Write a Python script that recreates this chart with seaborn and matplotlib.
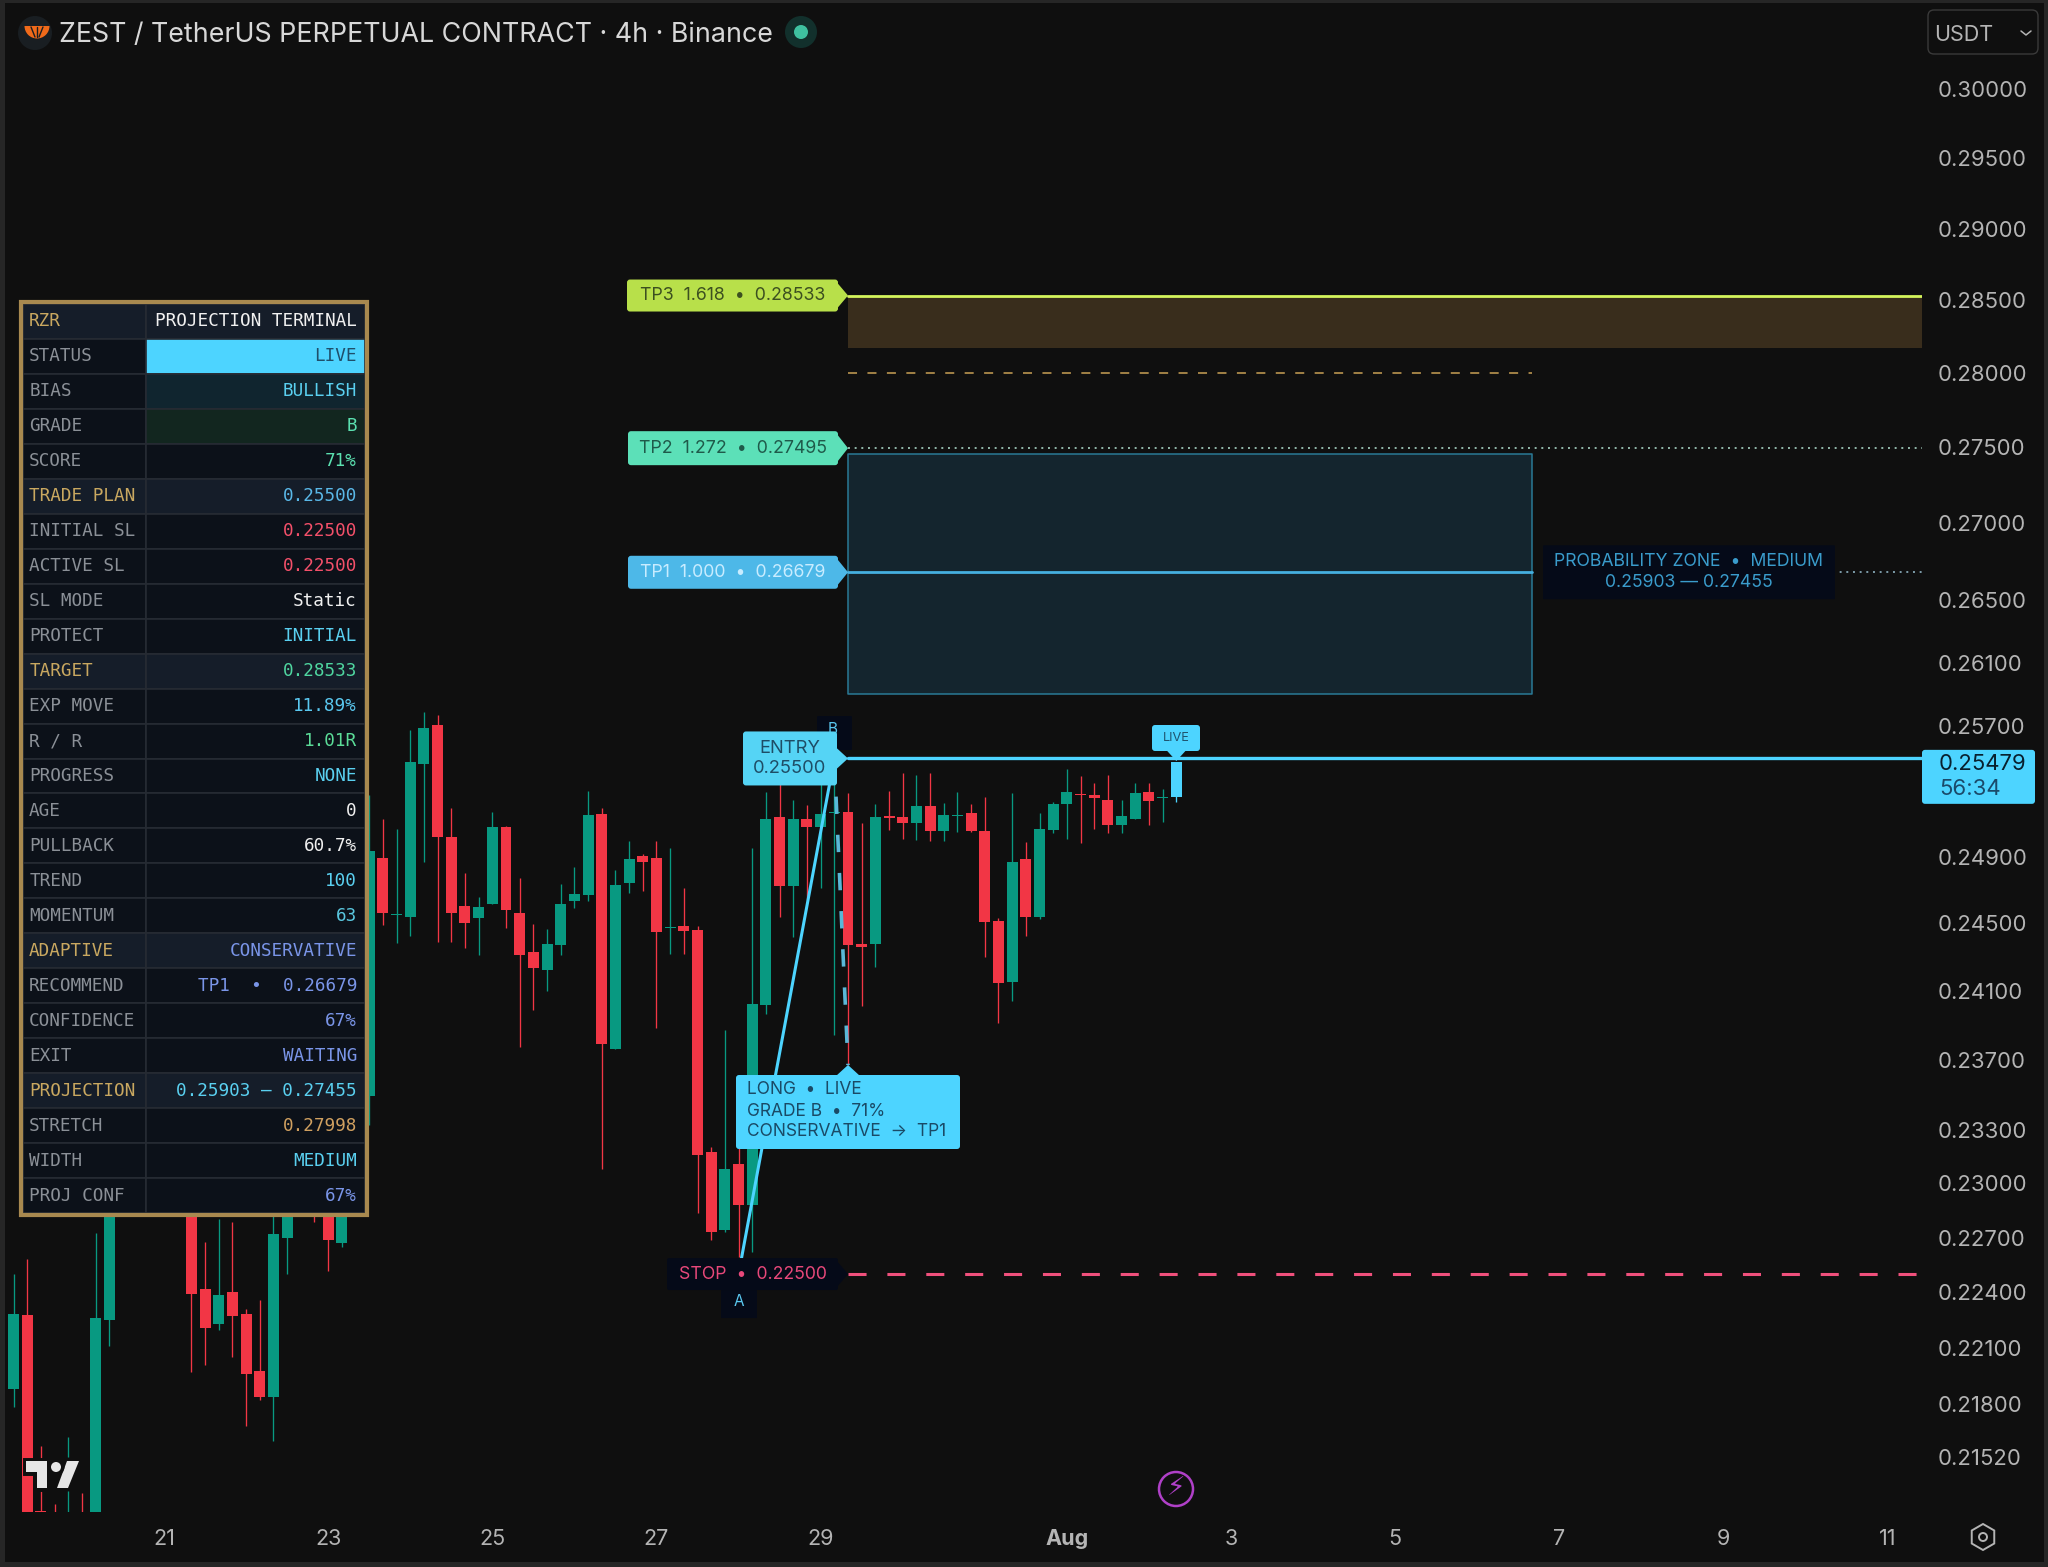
import matplotlib
matplotlib.use('Agg')
import matplotlib.pyplot as plt
import matplotlib.patheffects as pe
from matplotlib.patches import Rectangle, FancyBboxPatch, Polygon, Circle, Wedge, RegularPolygon, Ellipse
from matplotlib.ticker import NullLocator
import seaborn as sns

# Candles: 4h bars, index 0 = 21 Jul 00:00 (bars hidden behind the panel are left out)
bar_index = [-11, -10, -9, -8, -7, -6, -5, -4, 2, 3, 4, 5, 6, 7, 8, 9, 11, 12, 13, 15,
             16, 17, 18, 19, 20, 21, 22, 23, 24, 25, 26, 27, 28, 29, 30, 31, 32, 33, 34, 35,
             36, 37, 38, 39, 40, 41, 42, 43, 44, 45, 46, 47, 48, 49, 50, 51, 52, 53, 54, 55,
             56, 57, 58, 59, 60, 61, 62, 63, 64, 65, 66, 67, 68, 69, 70, 71, 72, 73, 74]
opens = [.21881, .22278, .21243, .21200, .21100, .21200, .21150, .22250, .23188, .22418,
         .22229, .22402, .22283, .21977, .21839, .22698, .23500, .23400, .22671, .23494,
         .24891, .24552, .24537, .25466, .25707, .25018, .24602, .24531, .24614, .25079,
         .24561, .24329, .24224, .24370, .24632, .24668, .25159, .23763, .24740, .24903,
         .24891, .24474, .24483, .24459, .23177, .22742, .23109, .22880, .24018, .25140,
         .24722, .25128, .25079, .25162, .25171, .24376, .24376, .25146, .25140, .25104,
         .25207, .25055, .25149, .25165, .25055, .24513, .24153, .24885, .24537, .25061,
         .25219, .25278, .25275, .25244, .25092, .25128, .25293, .25259, .25262]
highs = [.22500, .22582, .21581, .21279, .21628, .21336, .22726, .23100, .23300, .22676,
         .22800, .22786, .22310, .22359, .23000, .23400, .23700, .23600, .23500, .25275,
         .25128, .25067, .25676, .25789, .25770, .25195, .24800, .24656, .25171, .25085,
         .24770, .24495, .24465, .24734, .24837, .25299, .25195, .24819, .24994, .24915,
         .24994, .24952, .24710, .24483, .23205, .23873, .23357, .24952, .25293, .25428,
         .25244, .25213, .25397, .25366, .25287, .25104, .25219, .25299, .25409, .25397,
         .25409, .25225, .25293, .25219, .25262, .24531, .25287, .24988, .25165, .25232,
         .25434, .25391, .25348, .25397, .25244, .25348, .25348, .25311, .25479]
lows = [.21786, .21100, .21230, .21000, .21000, .21000, .21100, .22111, .21972, .22009,
        .22197, .22052, .21685, .21823, .21607, .22500, .22786, .22516, .22649, .23329,
        .24490, .24382, .24424, .24867, .24388, .24388, .24353, .24312, .24614, .24471,
        .23775, .23990, .24100, .24312, .24590, .24632, .23082, .23763, .24680, .24692,
        .23884, .24318, .24318, .22838, .22687, .22731, .22593, .22621, .23965, .24537,
        .24418, .24638, .24710, .23844, .23671, .24012, .24241, .25061, .25006, .25000,
        .24994, .24994, .25049, .25049, .24300, .23913, .24042, .24424, .24525, .25043,
        .25006, .24982, .25067, .25043, .25043, .25128, .25092, .25110, .25232]
closes = [.22283, .21145, .21237, .21100, .21200, .21100, .22261, .22964, .22391, .22207,
          .22386, .22272, .21961, .21839, .22720, .23200, .23000, .22687, .23300, .24933,
          .24561, .24558, .25478, .25689, .25018, .24561, .24501, .24596, .25079, .24579,
          .24312, .24236, .24376, .24614, .24674, .25152, .23792, .24728, .24885, .24867,
          .24447, .24480, .24453, .23160, .22731, .23082, .22880, .24024, .25128, .24722,
          .25128, .25079, .25159, .25168, .24370, .24359, .25140, .25134, .25104, .25207,
          .25055, .25152, .25155, .25055, .24507, .24147, .24867, .24537, .25067, .25219,
          .25293, .25272, .25256, .25092, .25146, .25287, .25238, .25265, .25479]

# Axis ticks
price_ticks = [.30, .295, .29, .285, .28, .275, .27, .265, .261, .257, .249, .245,
               .241, .237, .233, .23, .227, .224, .221, .218, .2152]
date_ticks = [0, 12, 24, 36, 48, 66, 78, 90, 102, 114, 126]
date_labels = ['21', '23', '25', '27', '29', 'Aug', '3', '5', '7', '9', '11']

# Trade levels
entry_price = .25500
stop_price = .22500
last_price = .25479
tp1_price = .26679
tp2_price = .27495
tp3_price = .28533
stretch_price = .27998
zone_low = .25903
zone_high = .27455
gold_zone_low = .28172
level_start = 50
level_end = 100
swing_a = (42, .22500)
swing_b = (49, .25500)
swing_c = (50, .23671)

# Terminal panel
term_labels = ['RZR', 'STATUS', 'BIAS', 'GRADE', 'SCORE', 'TRADE PLAN', 'INITIAL SL', 'ACTIVE SL',
               'SL MODE', 'PROTECT', 'TARGET', 'EXP MOVE', 'R / R', 'PROGRESS', 'AGE', 'PULLBACK',
               'TREND', 'MOMENTUM', 'ADAPTIVE', 'RECOMMEND', 'CONFIDENCE', 'EXIT', 'PROJECTION',
               'STRETCH', 'WIDTH', 'PROJ CONF']
term_values = ['PROJECTION TERMINAL', 'LIVE', 'BULLISH', 'B', '71%', '0.25500', '0.22500', '0.22500',
               'Static', 'INITIAL', '0.28533', '11.89%', '1.01R', 'NONE', '0', '60.7%',
               '100', '63', 'CONSERVATIVE', 'TP1  •  0.26679', '67%', 'WAITING',
               '0.25903 — 0.27455', '0.27998', 'MEDIUM', '67%']
term_colors = ['#f0f0f0', '#1f4f6b', '#5ad0f0', '#5be0b0', '#5be0b0', '#5ab8e8', '#f4506a', '#f4506a',
               '#f0f0f0', '#5ad0f0', '#4fd6a0', '#5ac8f0', '#5bdc98', '#5ad0f0', '#f0f0f0', '#f0f0f0',
               '#5ad0f0', '#5ac8e0', '#7a95e8', '#7a95e8', '#7a95e8', '#7a95e8',
               '#5ad0f0', '#d0a060', '#5ad0f0', '#7a95e8']
term_gold_rows = ['RZR', 'TRADE PLAN', 'TARGET', 'ADAPTIVE', 'PROJECTION']
term_fills = {'STATUS': '#4dd4ff', 'BIAS': '#10252f', 'GRADE': '#12261f'}

W, H = 2048, 1567
BG = '#0f0f0f'
UP, DOWN, LIVE = '#089981', '#f23645', '#4dd4ff'

sns.set_theme(style='dark', rc={'axes.facecolor': BG, 'figure.facecolor': BG,
                                'lines.scale_dashes': False, 'axes.grid': False})
plt.rcParams['font.family'] = ['Inter', 'DejaVu Sans']

fig = plt.figure(figsize=(W / 100, H / 100), dpi=100)

# Chart axes: log price, x in bars
ax = fig.add_axes([5 / W, (H - 1512) / H, (1922 - 5) / W, (1512 - 60) / H])
ax.set_yscale('log')
ax.set_xlim((5 - 164) / 13.68, (1922 - 164) / 13.68)
ax.set_ylim(.21237, .30212)

# Zones under the candles
ax.fill_between([level_start, ax.get_xlim()[1]], gold_zone_low, tp3_price, color='#392d1c', lw=0)
ax.fill_between([level_start, level_end], zone_low, zone_high, facecolor='#14252e',
                edgecolor='#2a7a96', lw=1.1)

# Candles
for i, o, h, l, c in zip(bar_index, opens, highs, lows, closes):
    col = LIVE if i == bar_index[-1] else (UP if c >= o else DOWN)
    ax.vlines(i, l, h, color=col, lw=.95, zorder=2)
    ax.bar(i, abs(c - o), bottom=min(o, c), width=.8, color=col, lw=0, zorder=3)

# Levels
def level(x0, x1, price, color, lw, ls='-'):
    sns.lineplot(x=[x0, x1], y=[price, price], color=color, lw=lw, linestyle=ls,
                 errorbar=None, ax=ax, zorder=4)

x_end = ax.get_xlim()[1]
level(level_start, x_end, tp3_price, '#d4f45c', 2.0)
level(level_start, level_end, stretch_price, '#c9a055', 1.1, (0, (6.5, 7.5)))
level(level_start, x_end, tp2_price, '#a8d4c4', 1.2, (0, (1.4, 3.4)))
level(level_start, level_end, tp1_price, '#45b0e0', 2.0)
level(122, x_end, tp1_price, '#8fb4c4', 1.2, (0, (1.4, 3.4)))
level(level_start, x_end, entry_price, LIVE, 2.4)
level(level_start, x_end, stop_price, '#f0507c', 2.2, (0, (13, 15)))

# A-B-C swing
sns.lineplot(x=[swing_a[0], swing_b[0]], y=[swing_a[1], swing_b[1]], color=LIVE, lw=2.2,
             errorbar=None, ax=ax, zorder=5)
ax.plot([swing_b[0], swing_c[0]], [swing_b[1], swing_c[1]], color='#5ab8d8', lw=2.6,
        linestyle=(0, (12.5, 15)), zorder=5)

ax.yaxis.tick_right()
ax.set_yticks(price_ticks, [f'{p:.5f}' for p in price_ticks])
ax.yaxis.set_minor_locator(NullLocator())
ax.set_xticks(date_ticks, date_labels)
ax.set_xlabel('')
ax.set_ylabel('')
ax.tick_params(axis='y', length=0, pad=11.5, labelsize=15.9, labelcolor='#b4b4b4')
ax.tick_params(axis='x', length=0, pad=12.5, labelsize=15.5, labelcolor='#b4b4b4')
for tick in ax.get_xticklabels():
    if tick.get_text() == 'Aug':
        tick.set_fontweight('bold')
for s in ax.spines.values():
    s.set_visible(False)

# Overlay in screen pixels for labels and chrome
ui = fig.add_axes([0, 0, 1, 1], zorder=5)
ui.set_xlim(0, W)
ui.set_ylim(H, 0)
ui.axis('off')
ui.patch.set_alpha(0)

def px(i, price):
    x, y = ax.transData.transform((i, price))
    return x, H - y

def box(x0, y0, x1, y1, color, z=6, r=3):
    ui.add_patch(FancyBboxPatch((x0 + r, y0 + r), x1 - x0 - 2 * r, y1 - y0 - 2 * r,
                                boxstyle=f'round,pad={r},rounding_size={r}',
                                fc=color, ec='none', zorder=z))

def tag(price, x0, h, color, text, tcolor, size=12.8):
    tip_x, yc = px(level_start, price)
    box(x0, yc - h / 2, tip_x - 10, yc + h / 2, color)
    ui.add_patch(Polygon([(tip_x - 11, yc - h / 2 + 3), (tip_x, yc), (tip_x - 11, yc + h / 2 - 3)],
                         fc=color, ec='none', zorder=6))
    ui.text((x0 + tip_x - 10) / 2, yc, text, color=tcolor, fontsize=size,
            ha='center', va='center', zorder=7)

tag(tp3_price, 627, 32, '#b8e04a', 'TP3  1.618  •  0.28533', '#3c5020')
tag(tp2_price, 628, 34, '#5ce0b8', 'TP2  1.272  •  0.27495', '#1f5a4a')
tag(tp1_price, 628, 33, '#4db8e8', 'TP1  1.000  •  0.26679', '#c8ecff')

# B marker, entry tag
bx, by = px(*swing_b)
box(817, 716, 852, 750, '#050a18', z=5, r=1)
ui.text(833, 729, 'B', color='#5ac8f0', fontsize=11, ha='center', va='center', zorder=5)
ex, ey = px(level_start, entry_price)
box(743, ey - 27, ex - 11, ey + 27, '#55d4f5')
ui.add_patch(Polygon([(ex - 12, ey - 11), (ex, ey), (ex - 12, ey + 11)], fc='#55d4f5', ec='none', zorder=6))
ui.text(790, ey - 10, 'ENTRY', color='#1e4d66', fontsize=13.2, ha='center', va='center', zorder=7)
ui.text(790, ey + 10, '0.25500', color='#1e4d66', fontsize=13.2, ha='center', va='center', zorder=7)

# Stop tag and A marker
sx, sy = px(level_start, stop_price)
box(721, sy + 16, 757, sy + 44, '#050a18', z=5, r=1)
ui.text(739, sy + 27, 'A', color='#5ac8f0', fontsize=11, ha='center', va='center', zorder=5)
box(667, sy - 16, sx - 10, sy + 16, '#050a18', r=2)
ui.add_patch(Polygon([(sx - 11, sy - 13), (sx, sy), (sx - 11, sy + 13)], fc='#050a18', ec='none', zorder=6))
ui.text(753, sy, 'STOP  •  0.22500', color='#e8487a', fontsize=12.7, ha='center', va='center', zorder=7)

# Long info box
box(736, 1075, 960, 1149, LIVE)
tipx = px(level_start, entry_price)[0]
ui.add_patch(Polygon([(tipx - 12, 1076), (tipx, 1065), (tipx + 12, 1076)], fc=LIVE, ec='none', zorder=6))
for yy, line in zip([1090, 1111, 1131], ['LONG  •  LIVE', 'GRADE B  •  71%', 'CONSERVATIVE  →  TP1']):
    ui.text(747, yy, line, color='#1a4a66', fontsize=12.5, ha='left', va='center', zorder=7)

# Live tag above last bar
lx, ly = px(bar_index[-1], entry_price)
box(1152, 725, 1200, 751, LIVE)
ui.add_patch(Polygon([(lx - 10, 750), (lx, 761), (lx + 10, 750)], fc=LIVE, ec='none', zorder=6))
ui.text(lx, 738, 'LIVE', color='#1f5570', fontsize=9.2, ha='center', va='center', zorder=7)

# Probability zone label
pcx, pcy = 1689, px(level_end, tp1_price)[1]
box(1543, pcy - 27, 1835, pcy + 27, '#050a18', r=1)
ui.text(pcx, pcy - 11, 'PROBABILITY ZONE  •  MEDIUM', color='#3a9ccc', fontsize=12.7, ha='center', va='center', zorder=7)
ui.text(pcx, pcy + 10, '0.25903 — 0.27455', color='#3a9ccc', fontsize=12.7, ha='center', va='center', zorder=7)

# Last price tag
ty = px(0, last_price)[1]
box(1922, ty - 12, 2035, ty + 42, LIVE)
ui.text(1939, ty + 2, f'{last_price:.5f}', color='#08202e', fontsize=15.9, ha='left', va='center', zorder=7)
ui.text(1939, ty + 27, '56:34', color='#1a4a6a', fontsize=16, ha='left', va='center', zorder=7)

# Window frame
for rect in [(0, 0, 5, H), (0, 0, W, 3), (0, 1562, W, 5), (2044, 0, 4, H)]:
    ui.add_patch(Rectangle(rect[:2], rect[2], rect[3], fc='#262626', ec='none', zorder=8))

# Header
ui.add_patch(Circle((35, 33), 17, fc='#191e22', ec='none', zorder=6))
ui.add_patch(Wedge((37, 26), 12.5, 0, 180, fc='#f06a1a', ec='none', zorder=7))
for xa, xb in [(31, 35), (37, 37), (43, 39)]:
    ui.plot([xa, xb], [27, 37], color='#191e22', lw=1, zorder=8)
ui.text(59, 35, 'ZEST / TetherUS PERPETUAL CONTRACT · 4h · Binance', color='#d8d8d8', fontsize=19.3,
        ha='left', va='center', zorder=7)
ui.add_patch(Circle((801, 32), 16, fc='#12302c', ec='none', zorder=6))
ui.add_patch(Ellipse((801, 32), 14, 14, fc='#3fc1a0', ec='none', zorder=7))
ui.add_patch(FancyBboxPatch((1933, 15), 100, 34, boxstyle='round,pad=5,rounding_size=6',
                            fc='none', ec='#3a3a3a', lw=1, zorder=6))
ui.text(1934, 35, 'USDT', color='#b4b4b4', fontsize=15.5, ha='left', va='center', zorder=7)
ui.plot([2021, 2026, 2031], [31, 35, 31], color='#b4b4b4', lw=1.1, zorder=7)

# Bottom icons
ui.add_patch(Circle((1176, 1489), 17, fc='none', ec='#b040c8', lw=1.8, zorder=7))
ui.text(1176, 1489, '\u26a1', color='#b040c8', fontsize=19, family='DejaVu Sans', ha='center', va='center', zorder=7)
ui.add_patch(RegularPolygon((1983, 1537), 6, radius=13, fc='none', ec='#b4b4b4', lw=1.4, zorder=7))
ui.add_patch(Circle((1983, 1537), 4, fc='none', ec='#b4b4b4', lw=1.4, zorder=7))

# Watermark
halo = [pe.withStroke(linewidth=5, foreground=BG)]
for pts in [[(26, 1461), (47, 1461), (47, 1488), (37, 1488), (37, 1472), (26, 1472)],
            [(67, 1461), (79, 1461), (68, 1488), (57, 1488)]]:
    ui.add_patch(Polygon(pts, fc='#e6e6e6', ec='none', zorder=6, path_effects=halo))
ui.add_patch(Circle((56, 1467), 5, fc='#e6e6e6', ec='none', zorder=6, path_effects=halo))

# Terminal panel
ui.add_patch(Rectangle((21, 302), 346, 913, fc='none', ec='#a8894f', lw=3, zorder=4))
tab_ax = fig.add_axes([23 / W, (H - 1213) / H, 342 / W, 909 / H], zorder=4)
tab_ax.axis('off')
tbl = tab_ax.table(cellText=[[a, b] for a, b in zip(term_labels, term_values)],
                   colWidths=[123 / 342, 219 / 342], bbox=[0, 0, 1, 1])
tbl.auto_set_font_size(False)
for r, (lab, val, vc) in enumerate(zip(term_labels, term_values, term_colors)):
    gold = lab in term_gold_rows
    left, right = tbl[(r, 0)], tbl[(r, 1)]
    left.set_facecolor('#151d29' if gold else '#0c1119')
    right.set_facecolor(term_fills.get(lab, '#151d29' if gold else '#0c1119'))
    left.PAD, right.PAD = .05, .037
    left.set_text_props(color='#c9a860' if gold else '#8b9097', family='DejaVu Sans Mono',
                        fontsize=12.7, ha='left')
    right.set_text_props(color=vc, family='DejaVu Sans Mono', fontsize=12.7, ha='right')
    for cell in (left, right):
        cell.set_edgecolor('#262b33')
        cell.set_linewidth(1.2)

fig.savefig('out.png', dpi=100, facecolor=BG)
